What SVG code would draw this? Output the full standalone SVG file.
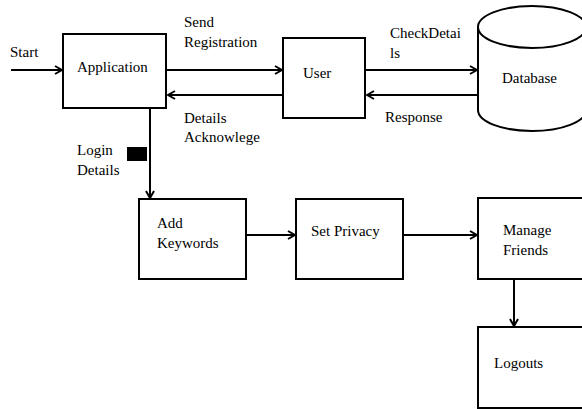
<svg xmlns="http://www.w3.org/2000/svg" width="582" height="409" viewBox="0 0 582 409">
<style>
.box{fill:#fff;stroke:#000;stroke-width:2}
.ln{fill:none;stroke:#000;stroke-width:2}
.t{font-family:'Liberation Serif','Times New Roman',Times,'DejaVu Serif',serif;font-size:15px;fill:#000}
</style>
<defs>
<marker id="ah" viewBox="0 0 10 10" refX="9" refY="5" markerWidth="5" markerHeight="5" orient="auto" markerUnits="strokeWidth">
<polyline points="2,1 9,5 2,9" fill="none" stroke="#000" stroke-width="2"/>
</marker>
</defs>
<rect width="582" height="409" fill="#fff"/>
<g id="connectors">
<line class="ln" x1="11" y1="70" x2="62" y2="70" marker-end="url(#ah)"/>
<line class="ln" x1="167" y1="70" x2="282" y2="70" marker-end="url(#ah)"/>
<line class="ln" x1="283" y1="95" x2="168" y2="95" marker-end="url(#ah)"/>
<line class="ln" x1="366" y1="70" x2="477" y2="70" marker-end="url(#ah)"/>
<line class="ln" x1="478" y1="95" x2="367" y2="95" marker-end="url(#ah)"/>
<line class="ln" x1="150" y1="108" x2="150" y2="198" marker-end="url(#ah)"/>
<line class="ln" x1="246" y1="235" x2="295" y2="235" marker-end="url(#ah)"/>
<line class="ln" x1="403" y1="235" x2="477" y2="235" marker-end="url(#ah)"/>
<line class="ln" x1="514" y1="279" x2="514" y2="326" marker-end="url(#ah)"/>
<rect x="127" y="147" width="20" height="14" fill="#000"/>
<text class="t" x="10" y="57">Start</text>
<text class="t" x="184" y="27">Send</text>
<text class="t" x="184" y="47">Registration</text>
<text class="t" x="184" y="123">Details</text>
<text class="t" x="184" y="142">Acknowlege</text>
<text class="t" x="77" y="155">Login</text>
<text class="t" x="77" y="175">Details</text>
<text class="t" x="390" y="38">CheckDetai</text>
<text class="t" x="390" y="58">ls</text>
<text class="t" x="385" y="122">Response</text>
</g>
<g id="application">
<rect class="box" x="63" y="34" width="103" height="74"/>
<text class="t" x="77" y="72">Application</text>
</g>
<g id="user">
<rect class="box" x="283" y="38" width="82" height="80"/>
<text class="t" x="303" y="78">User</text>
</g>
<g id="database">
<path class="box" d="M478,27 L478,110 A54,21 0 0 0 586,110 L586,27"/>
<ellipse class="box" cx="532" cy="27" rx="54" ry="21"/>
<text class="t" x="502" y="83">Database</text>
</g>
<g id="add-keywords">
<rect class="box" x="139" y="199" width="107" height="80"/>
<text class="t" x="157" y="228">Add</text>
<text class="t" x="157" y="248">Keywords</text>
</g>
<g id="set-privacy">
<rect class="box" x="296" y="199" width="107" height="80"/>
<text class="t" x="311" y="236">Set Privacy</text>
</g>
<g id="manage-friends">
<rect class="box" x="478" y="198" width="110" height="81"/>
<text class="t" x="503" y="235">Manage</text>
<text class="t" x="503" y="255">Friends</text>
</g>
<g id="logouts">
<rect class="box" x="478" y="327" width="110" height="81"/>
<text class="t" x="494" y="368">Logouts</text>
</g>
</svg>
